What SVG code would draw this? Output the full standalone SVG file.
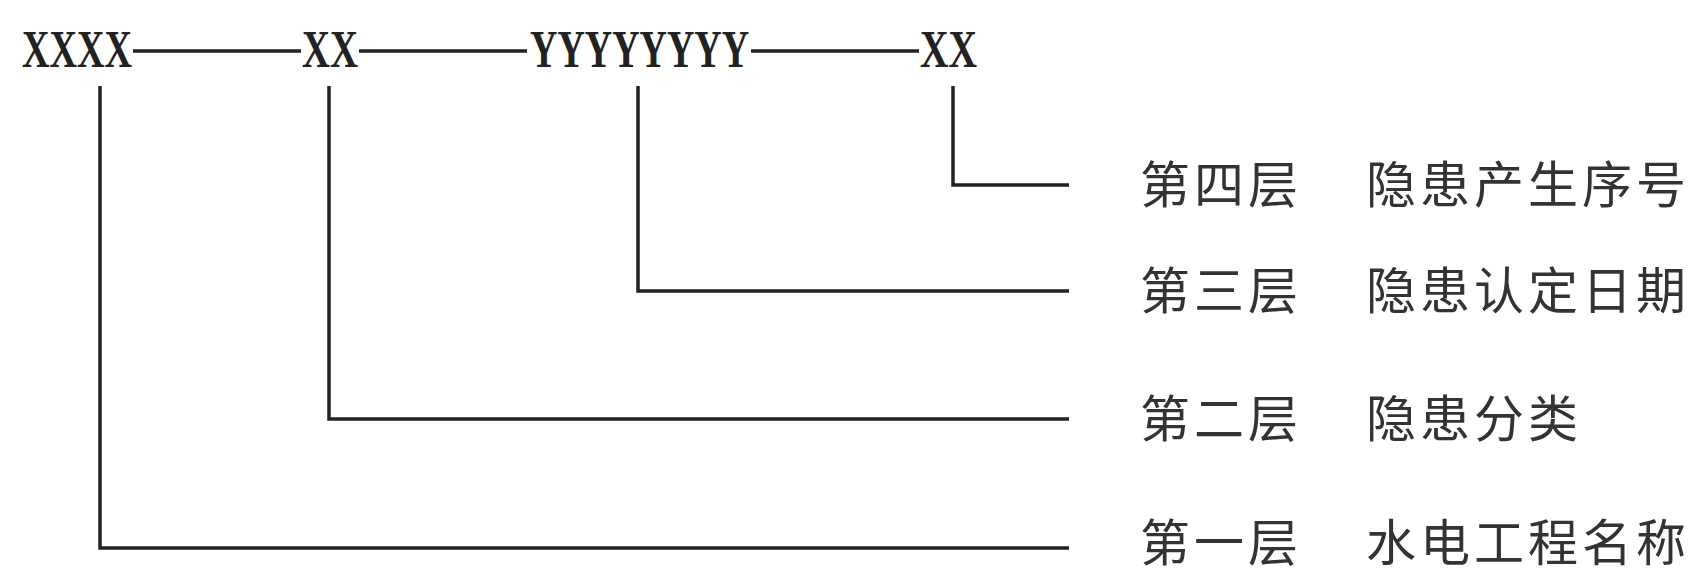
<svg xmlns="http://www.w3.org/2000/svg" width="1702" height="574" viewBox="0 0 1702 574">
<style>
.code{font-family:"Liberation Serif",serif;font-size:52px;font-weight:bold;fill:#222}
.lbl{font-family:"Noto Sans CJK SC",sans-serif;font-size:50px;fill:#333;letter-spacing:4px}
.ln{stroke:#222;stroke-width:3.5;fill:none}
</style>
<rect width="1702" height="574" fill="#fff"/>
<g id="code">
<text class="code" x="22" y="67" textLength="110" lengthAdjust="spacingAndGlyphs">XXXX</text>
<text class="code" x="302" y="67" textLength="56" lengthAdjust="spacingAndGlyphs">XX</text>
<text class="code" x="530" y="67" textLength="219" lengthAdjust="spacingAndGlyphs">YYYYYYYY</text>
<text class="code" x="920" y="67" textLength="57" lengthAdjust="spacingAndGlyphs">XX</text>
<line class="ln" x1="133" y1="51" x2="301" y2="51"/>
<line class="ln" x1="359" y1="51" x2="527" y2="51"/>
<line class="ln" x1="751" y1="51" x2="919" y2="51"/>
</g>
<g id="connectors">
<polyline class="ln" points="953,86 953,185 1069,185"/>
<polyline class="ln" points="638,86 638,291 1069,291"/>
<polyline class="ln" points="329,86 329,419 1069,419"/>
<polyline class="ln" points="100,86 100,548 1069,548"/>
</g>
<g id="layer4"><text class="lbl" x="1140" y="203">第四层</text><text class="lbl" x="1366" y="203">隐患产生序号</text></g>
<g id="layer3"><text class="lbl" x="1140" y="309">第三层</text><text class="lbl" x="1366" y="309">隐患认定日期</text></g>
<g id="layer2"><text class="lbl" x="1140" y="437">第二层</text><text class="lbl" x="1366" y="437">隐患分类</text></g>
<g id="layer1"><text class="lbl" x="1140" y="561">第一层</text><text class="lbl" x="1366" y="561">水电工程名称</text></g>
</svg>
